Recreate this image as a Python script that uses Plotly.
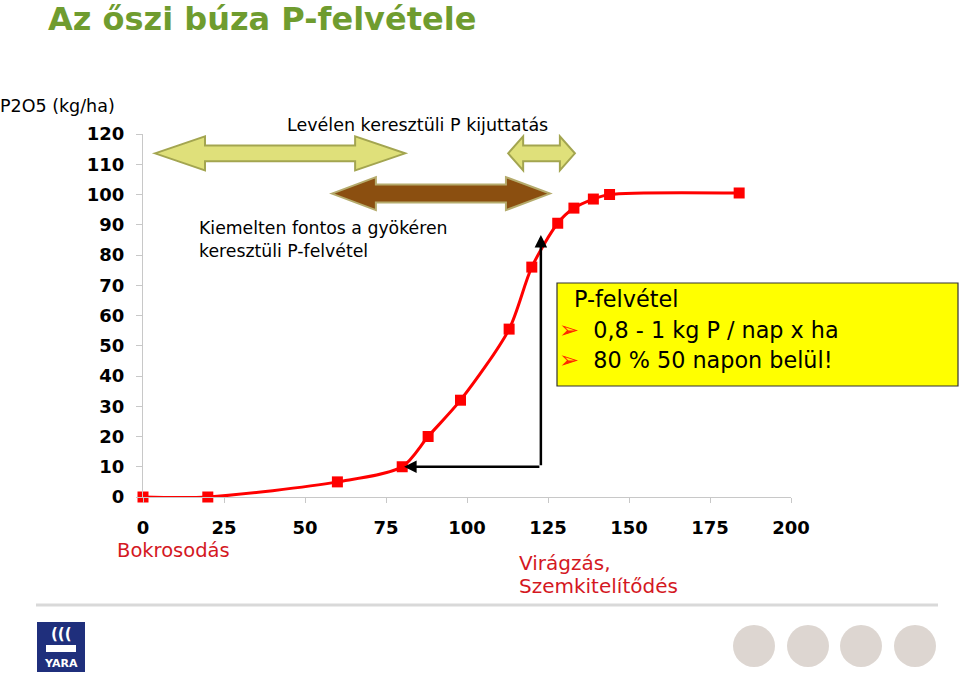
import plotly.graph_objects as go

# ---------------- data ----------------
days = [0, 20, 60, 80, 88, 98, 113, 120, 128, 133, 139, 144, 184]
p2o5 = [0, 0, 5, 10, 20, 32, 55.5, 76, 90.5, 95.5, 98.5, 100, 100.5]
x_ticks = [0, 25, 50, 75, 100, 125, 150, 175, 200]
y_ticks = [0, 10, 20, 30, 40, 50, 60, 70, 80, 90, 100, 110, 120]

# spans of the block arrows (days) and their vertical level (kg/ha)
foliar_spans = [(3.7, 80.9), (112.7, 133.3)]
foliar_level = 113.6
root_span = (58.3, 125.6)
root_level = 100.3

# the black corner arrows (day / kg level)
corner_day = 122.8
corner_low = 10
corner_high = 86.6
corner_left_day = 80.6

# ---------------- layout helpers ----------------
W, H = 960, 675
L, R, T, B = 143, 169, 134, 178
PX_X = (W - L - R) / 200.0
PX_Y = (H - T - B) / 120.0


def px(x):
    return (x - L) / (W - L - R)


def py(y):
    return (H - B - y) / (H - T - B)


def block_arrow(x0, x1, yc, head_px, body_px, head_len_px):
    hh = head_px / PX_Y
    bh = body_px / PX_Y
    hl = head_len_px / PX_X
    pts = [
        (x0, yc), (x0 + hl, yc + hh), (x0 + hl, yc + bh), (x1 - hl, yc + bh),
        (x1 - hl, yc + hh), (x1, yc), (x1 - hl, yc - hh), (x1 - hl, yc - bh),
        (x0 + hl, yc - bh), (x0 + hl, yc - hh),
    ]
    return "M " + " L ".join(f"{a},{b}" for a, b in pts) + " Z"


FONT = "DejaVu Sans, Arial, sans-serif"

fig = go.Figure()
fig.add_trace(go.Scatter(
    x=days, y=p2o5, mode="lines+markers",
    line=dict(color="#ff0000", width=3, shape="spline", smoothing=0.8),
    marker=dict(symbol="square", size=11, color="#ff0000"),
    cliponaxis=False, showlegend=False, hoverinfo="skip",
))

shapes = []
# light foliar arrows
shapes.append(dict(type="path", xref="x", yref="y", layer="above",
                   path=block_arrow(foliar_spans[0][0], foliar_spans[0][1], foliar_level, 17, 7.8, 50),
                   fillcolor="#dfe07a", line=dict(color="#a3a550", width=2)))
shapes.append(dict(type="path", xref="x", yref="y", layer="above",
                   path=block_arrow(foliar_spans[1][0], foliar_spans[1][1], foliar_level, 17, 7.8, 15),
                   fillcolor="#dfe07a", line=dict(color="#a3a550", width=2)))
# brown root arrow
shapes.append(dict(type="path", xref="x", yref="y", layer="above",
                   path=block_arrow(root_span[0], root_span[1], root_level, 16.5, 9, 44),
                   fillcolor="#8b4f10", line=dict(color="#b5ab6c", width=2)))
# yellow info box
shapes.append(dict(type="rect", xref="paper", yref="paper",
                   x0=px(557), x1=px(958), y0=py(386), y1=py(283),
                   fillcolor="#ffff00", line=dict(color="#333333", width=1.2), layer="above"))
# bottom separator line
shapes.append(dict(type="line", xref="paper", yref="paper",
                   x0=px(36), x1=px(938), y0=py(605), y1=py(605),
                   line=dict(color="#d9d9d9", width=3)))
# logo box
shapes.append(dict(type="rect", xref="paper", yref="paper",
                   x0=px(37), x1=px(85), y0=py(672), y1=py(622),
                   fillcolor="#1f2f7c", line=dict(width=0)))
shapes.append(dict(type="rect", xref="paper", yref="paper",
                   x0=px(46), x1=px(76), y0=py(652), y1=py(645),
                   fillcolor="white", line=dict(width=0)))
# decorative circles
for cx in [754, 808, 861, 915]:
    shapes.append(dict(type="circle", xref="paper", yref="paper",
                       x0=px(cx - 21), x1=px(cx + 21), y0=py(667), y1=py(625),
                       fillcolor="#ddd6d1", line=dict(width=0)))

annotations = []


def txt(text, x, y, size, color="black", bold=False, anchor="left", family=FONT):
    annotations.append(dict(
        text=f"<b>{text}</b>" if bold else text, xref="paper", yref="paper",
        x=px(x), y=py(y), xanchor=anchor, yanchor="middle", showarrow=False,
        borderpad=0, font=dict(family=family, size=size, color=color)))


BULLET = "<span style='color:#ff2a00;font-size:24px'>\u27a2</span>&nbsp;&nbsp;"

txt("Az \u0151szi búza P-felvétele", 47, 19, 32, color="#6f9c2f", bold=True)
txt("P2O5 (kg/ha)", -1, 106, 17.5)
txt("Levélen keresztüli P kijuttatás", 286, 125, 17.5)
txt("Kiemelten fontos a gyökéren", 198, 228, 17.3)
txt("keresztüli P-felvétel", 198, 251, 17.3)
txt("P-felvétel", 573, 299, 22.3)
txt(BULLET + "0,8 - 1 kg P / nap x ha", 558, 330, 22.3)
txt(BULLET + "80 % 50 napon belül!", 558, 360, 22.3)
txt("Bokrosodás", 116, 550, 19.5, color="#d4181f")
txt("Virágzás,", 518, 563, 20, color="#d4181f")
txt("Szemkitelít\u0151dés", 518, 586, 20, color="#d4181f")
txt("(((", 61, 634, 15, color="white", bold=True, anchor="center")
txt("YARA", 61, 663, 11, color="white", bold=True, anchor="center")

# black corner arrows
annotations.append(dict(x=corner_left_day, y=corner_low, ax=corner_day, ay=corner_low,
                        xref="x", yref="y", axref="x", ayref="y", text="", showarrow=True,
                        arrowhead=2, arrowsize=1, arrowwidth=2.5, arrowcolor="black"))
annotations.append(dict(x=corner_day, y=corner_high, ax=corner_day, ay=corner_low,
                        xref="x", yref="y", axref="x", ayref="y", text="", showarrow=True,
                        arrowhead=2, arrowsize=1, arrowwidth=2.5, arrowcolor="black"))

fig.update_layout(
    width=W, height=H,
    margin=dict(l=L, r=R, t=T, b=B),
    plot_bgcolor="white", paper_bgcolor="white",
    shapes=shapes, annotations=annotations,
    xaxis=dict(range=[0, 200], tickvals=x_ticks, ticktext=[str(v) for v in x_ticks],
               showgrid=False, zeroline=False, showline=True, linecolor="#c8c8c8", linewidth=1,
               ticks="outside", ticklen=5, tickcolor="#c8c8c8", ticklabelstandoff=9,
               tickfont=dict(family=FONT, size=18, color="black", weight="bold")),
    yaxis=dict(range=[0, 120], tickvals=y_ticks, ticktext=[str(v) for v in y_ticks],
               showgrid=False, zeroline=False, showline=True, linecolor="#c8c8c8", linewidth=1,
               ticks="outside", ticklen=6, tickcolor="#c8c8c8", ticklabelstandoff=8,
               tickfont=dict(family=FONT, size=18, color="black", weight="bold")),
)

fig.write_html("out.html")
